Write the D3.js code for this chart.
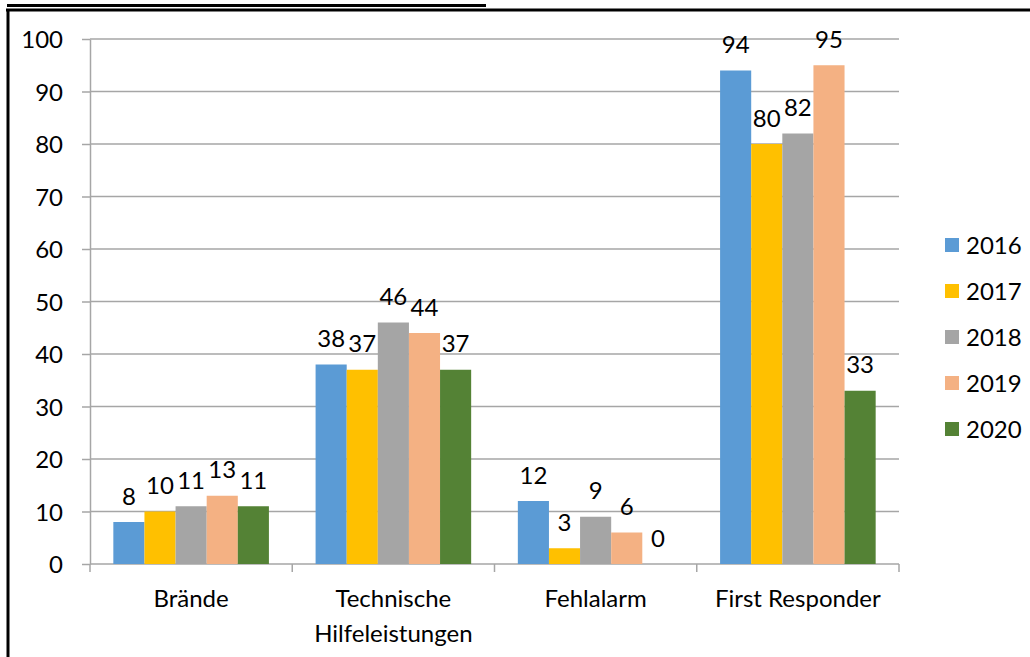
<!DOCTYPE html>
<html>
<head>
<meta charset="utf-8">
<script src="https://cdn.jsdelivr.net/npm/d3@7"></script>
<style>
  html, body { margin: 0; padding: 0; background: #fff; }
  svg { display: block; }
  text { font-family: Lato, "Open Sans", sans-serif; fill: #000; }
</style>
</head>
<body>
<svg id="chart" width="1030" height="657"></svg>
<script>
// ---- data ----
const categories = ["Brände", "Technische\nHilfeleistungen", "Fehlalarm", "First Responder"];
const years = ["2016", "2017", "2018", "2019", "2020"];
const values2016 = [8, 38, 12, 94];
const values2017 = [10, 37, 3, 80];
const values2018 = [11, 46, 9, 82];
const values2019 = [13, 44, 6, 95];
const values2020 = [11, 37, 0, 33];
const yTicks = [0, 10, 20, 30, 40, 50, 60, 70, 80, 90, 100];
const colors = ["#5B9BD5", "#FFC000", "#A5A5A5", "#F4B183", "#548235"];

const series = [values2016, values2017, values2018, values2019, values2020];

// ---- layout ----
(function () {
const svg = d3.select("#chart");
const plotLeft = 90, plotRight = 899, plotTop = 39, plotBottom = 564;
const fontSize = 24;

svg.append("rect").attr("width", 1030).attr("height", 657).attr("fill", "#fff");

// frame & underline of (cut-off) heading
svg.append("line").attr("x1", 7).attr("x2", 486).attr("y1", 5.5).attr("y2", 5.5)
  .attr("stroke", "#000").attr("stroke-width", 3);
svg.append("line").attr("x1", 6).attr("x2", 1030).attr("y1", 10).attr("y2", 10)
  .attr("stroke", "#000").attr("stroke-width", 3);
svg.append("line").attr("x1", 8).attr("x2", 8).attr("y1", 9).attr("y2", 657)
  .attr("stroke", "#000").attr("stroke-width", 3);

const x0 = d3.scaleBand().domain(categories).range([plotLeft, plotRight]).paddingInner(0).paddingOuter(0);
const x1 = d3.scaleBand().domain(years).range([0, x0.bandwidth()]).paddingInner(0).paddingOuter(0.75);
const y = d3.scaleLinear().domain([0, 100]).range([plotBottom, plotTop]);
const color = d3.scaleOrdinal().domain(years).range(colors);

// gridlines
svg.append("g").selectAll("line").data(yTicks).join("line")
  .attr("x1", plotLeft).attr("x2", plotRight)
  .attr("y1", d => y(d)).attr("y2", d => y(d))
  .attr("stroke", "#a6a6a6").attr("stroke-width", 1.5);

// y axis
const yAxis = svg.append("g").attr("transform", `translate(${plotLeft},0)`)
  .call(d3.axisLeft(y).tickValues(yTicks).tickSizeInner(8).tickSizeOuter(0).tickPadding(19));
yAxis.selectAll("path.domain").attr("stroke", "#a6a6a6").attr("stroke-width", 1.5);
yAxis.selectAll(".tick line").attr("stroke", "#a6a6a6").attr("stroke-width", 1.5);
yAxis.selectAll(".tick text")
  .style("font-family", "Lato, 'Open Sans', sans-serif")
  .style("font-size", fontSize + "px")
  .attr("fill", "#000")
  .attr("dy", "0.36em");

// x axis ticks at category boundaries
const bounds = categories.map(c => x0(c)).concat([plotRight]);
svg.append("g").selectAll("line").data(bounds).join("line")
  .attr("x1", d => d).attr("x2", d => d)
  .attr("y1", plotBottom).attr("y2", plotBottom + 8)
  .attr("stroke", "#a6a6a6").attr("stroke-width", 1.5);

// category labels
const catG = svg.append("g");
categories.forEach(c => {
  const cx = x0(c) + x0.bandwidth() / 2;
  const t = catG.append("text")
    .attr("x", cx)
    .attr("y", 607)
    .attr("text-anchor", "middle")
    .style("font-size", fontSize + "px");
  c.split("\n").forEach((line, i) => {
    t.append("tspan").attr("x", cx).attr("dy", i === 0 ? 0 : 35).text(line);
  });
});

// bars
const groups = svg.append("g").selectAll("g").data(categories).join("g")
  .attr("transform", c => `translate(${x0(c)},0)`);

groups.each(function(c, ci) {
  const g = d3.select(this);
  const data = years.map((yr, si) => ({ yr, v: series[si][ci] }));
  g.selectAll("rect").data(data).join("rect")
    .attr("x", d => x1(d.yr))
    .attr("width", x1.bandwidth())
    .attr("y", d => y(d.v))
    .attr("height", d => y(0) - y(d.v))
    .attr("fill", d => color(d.yr));
  g.selectAll("text").data(data).join("text")
    .attr("x", d => x1(d.yr) + x1.bandwidth() / 2)
    .attr("y", d => y(d.v) - 17.5)
    .attr("text-anchor", "middle")
    .style("font-size", fontSize + "px")
    .text(d => d.v);
});

// legend
const legend = svg.append("g").selectAll("g").data(years).join("g")
  .attr("transform", (d, i) => `translate(945,${245 + i * 46})`);
legend.append("rect").attr("x", 0).attr("y", -7).attr("width", 14).attr("height", 14)
  .attr("fill", d => color(d));
legend.append("text").attr("x", 21).attr("y", 8.5)
  .style("font-size", fontSize + "px").text(d => d);
})();
</script>
</body>
</html>
